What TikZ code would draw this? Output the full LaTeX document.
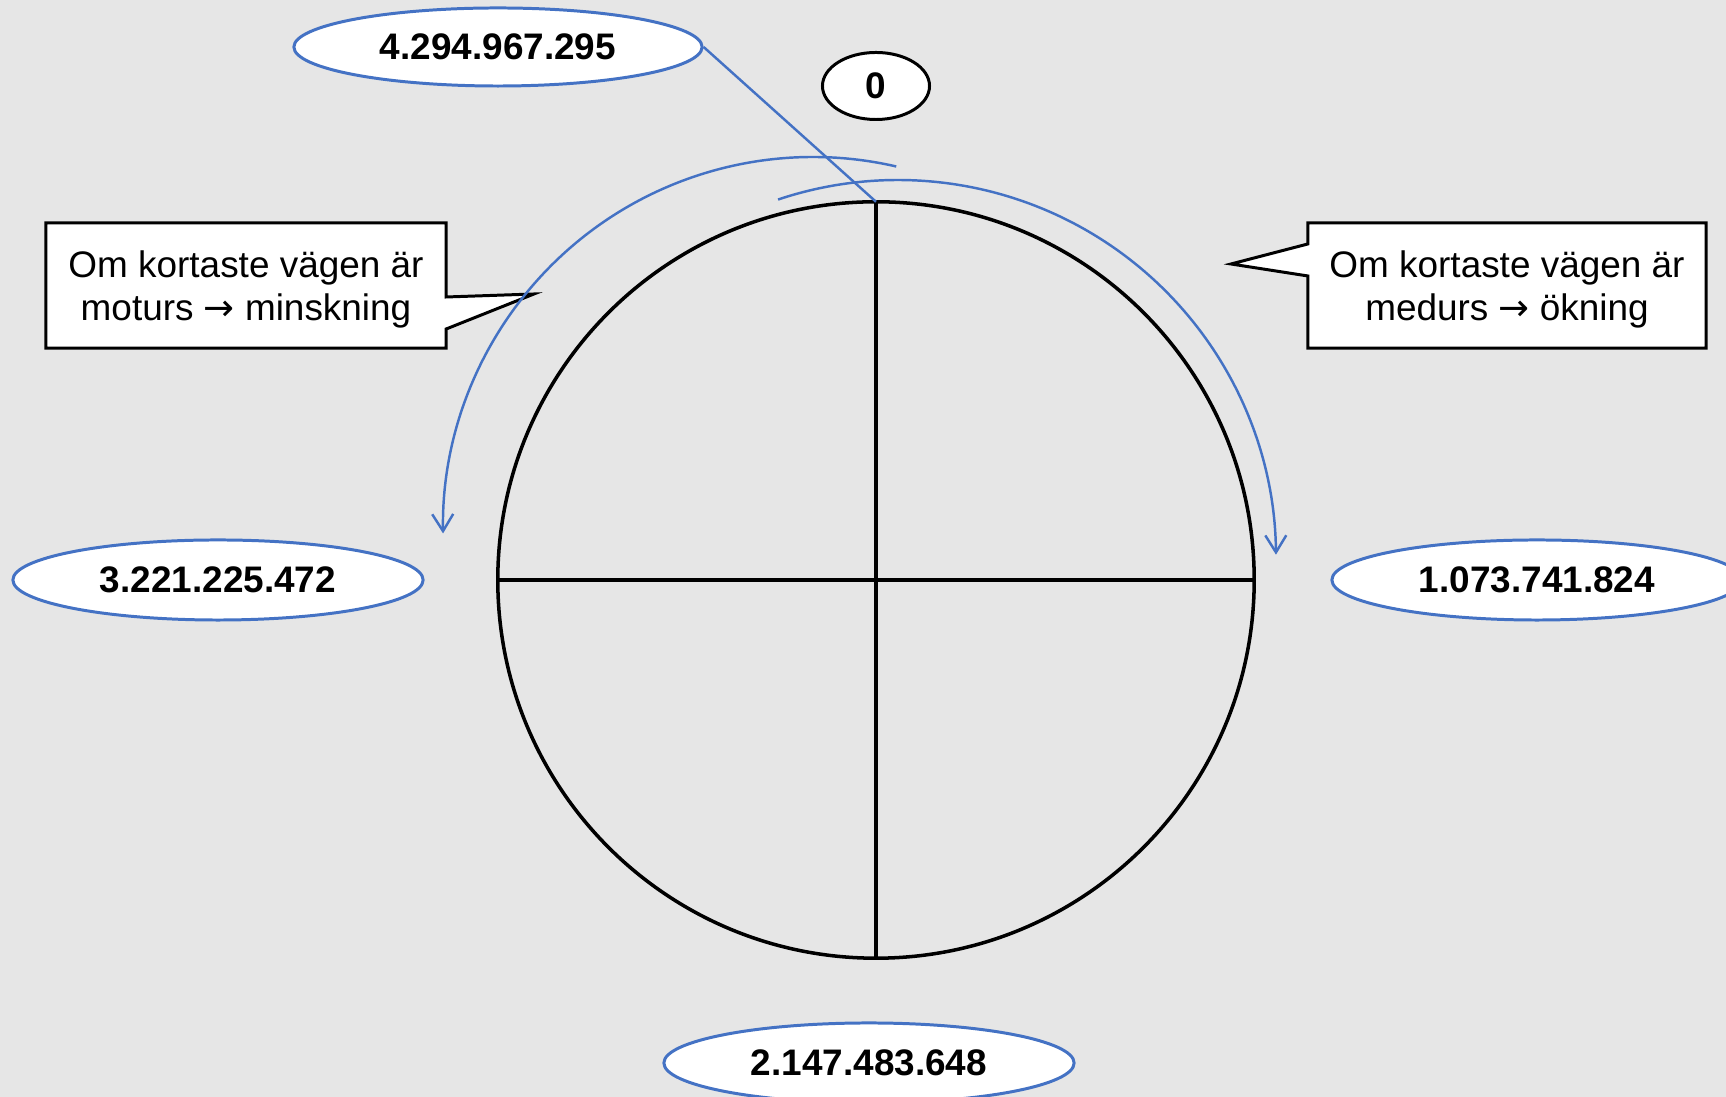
\documentclass[tikz,border=0pt]{standalone}
\usepackage{fontspec}
\setmainfont{Liberation Sans}
\newfontfamily\arrowfont{DejaVu Sans}
\usetikzlibrary{arrows.meta, shapes.geometric, calc, backgrounds}
\definecolor{ringblue}{HTML}{4472C4}
\definecolor{bggray}{HTML}{E6E6E6}
\newcommand{\toarrow}{{\arrowfont →}}

\begin{document}
\begin{tikzpicture}[x=0.01cm, y=0.01cm, >={Straight Barb[length=1.7mm, width=2.1mm]},
    every node/.style={font=\fontsize{10.5}{12.2}\selectfont},
    value/.style={ellipse, draw=ringblue, line width=0.85pt, fill=white, inner sep=0pt,
      minimum width=4.1cm, minimum height=0.8cm, font=\fontsize{10.5}{12.2}\selectfont\bfseries},
    note/.style={align=center, inner sep=0pt, outer sep=0pt,
      minimum width=4cm, minimum height=1.25cm},
    notebox/.style={draw, fill=white, line width=0.85pt, line join=miter},
    turn/.style={->, draw=ringblue, line width=0.7pt}]
    \useasboundingbox (0,0) rectangle (1726,1097);
    \begin{scope}[on background layer]
      \fill[bggray] (0,0) rectangle (1726,1097);
    \end{scope}

    % the ring with its quarters
    \node[circle, draw, line width=1pt, minimum size=7.56cm, inner sep=0pt, outer sep=0pt] (ring) at (876,517) {};
    \draw[line width=0.9pt] (ring.north) -- (ring.south) (ring.west) -- (ring.east);

    % direction arrows
    \coordinate (ccw) at (813,570);
    \coordinate (cw) at (898,539);
    \draw[turn] ($(ccw)+(77:370)$) arc[start angle=77, end angle=181, radius=370];
    \draw[turn] ($(cw)+(108.5:378)$) arc[start angle=108.5, end angle=0.5, radius=378];

    % values round the ring
    \node[value, minimum width=4.08cm, minimum height=0.78cm] (vmax) at (498,1050) {4.294.967.295};
    \node[ellipse, draw, line width=0.85pt, fill=white, inner sep=0pt, minimum width=1.07cm,
      minimum height=0.67cm, font=\fontsize{10.5}{12.2}\selectfont\bfseries] (vzero) at (876,1011) {0};
    \node[value] (vquarter) at (1537,517) {1.073.741.824};
    \node[value] (vhalf) at (869,34) {2.147.483.648};
    \node[value] (vthree) at (218,517) {3.221.225.472};
    \draw[ringblue, line width=0.7pt] (vmax.east) -- (ring.north);

    % callouts
    \node[note] (lnote) at (246,807.5) {Om kortaste vägen är\\moturs \toarrow{} minskning};
    \coordinate (ltip) at (534,803);
    \node[note, minimum width=3.98cm] (rnote) at (1507,807.5) {Om kortaste vägen är\\medurs \toarrow{} ökning};
    \coordinate (rtip) at (1231,833);
    \begin{scope}[on background layer]
      \draw[notebox] ([yshift=0.04cm]lnote.north west) -- ([yshift=0.04cm]lnote.north east)
        -- ([yshift=-0.075cm]lnote.east) -- (ltip) -- ([yshift=-0.395cm]lnote.east)
        -- ([yshift=0.04cm]lnote.south east) -- ([yshift=0.04cm]lnote.south west) -- cycle;
      \draw[notebox] ([yshift=0.04cm]rnote.north west) -- ([yshift=0.04cm]rnote.north east)
        -- ([yshift=0.04cm]rnote.south east) -- ([yshift=0.04cm]rnote.south west)
        -- ([yshift=0.135cm]rnote.west) -- (rtip) -- ([yshift=0.455cm]rnote.west) -- cycle;
    \end{scope}
\end{tikzpicture}
\end{document}
